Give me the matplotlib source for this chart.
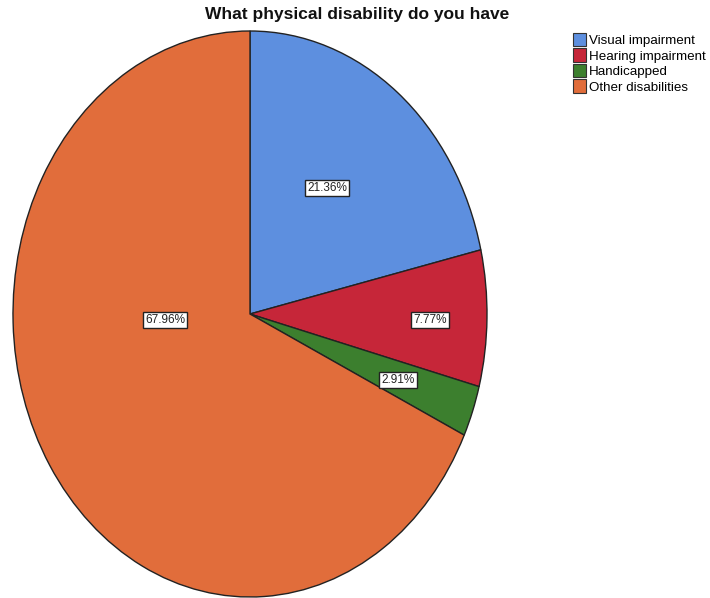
import numpy as np
import matplotlib.pyplot as plt
from matplotlib.patches import Patch

plt.rcParams['font.family'] = ['Liberation Sans', 'DejaVu Sans']

categories = ['Visual impairment', 'Hearing impairment', 'Handicapped', 'Other disabilities']
percents = [21.36, 7.77, 2.91, 67.96]
colors = ['#5d8fdf', '#c62639', '#3c7f2e', '#e16d3b']

# where each percentage box sits (pie units)
label_pos = [(0.325, 0.445), (0.76, -0.021), (0.624, -0.233), (-0.359, -0.021)]

fig = plt.figure(figsize=(7.10, 5.98), dpi=100)
ax = fig.add_axes([13 / 710, 1 / 598, 474 / 710, 566 / 598])

wedges, _ = ax.pie(percents, colors=colors, startangle=90, counterclock=False,
                   wedgeprops=dict(edgecolor='#222222', linewidth=1.0))
ax.set_aspect('auto')
ax.set_xlim(-1.0, 1.0)
ax.set_ylim(-1.0, 1.0)

for p, (x, y) in zip(percents, label_pos):
    ax.text(x, y, f'{p:.2f}%', ha='center', va='center', fontsize=8.5, color='#222222',
            bbox=dict(boxstyle='square,pad=0.2', facecolor='white', edgecolor='#222222', linewidth=1.0))

fig.text(0.5 * (215 + 500) / 710, 1 - 14 / 598, 'What physical disability do you have',
         ha='center', va='center', fontsize=12.5, fontweight='bold', color='#111111')

handles = [Patch(facecolor=c, edgecolor='#333333', linewidth=0.8) for c in colors]
fig.legend(handles, categories, loc='upper left', bbox_to_anchor=(573 / 710, 1 - 33 / 598),
           frameon=False, fontsize=9.6, handlelength=1.0, handleheight=1.15,
           handletextpad=0.2, labelspacing=0.1, borderpad=0, borderaxespad=0)

fig.savefig('out.png', dpi=100)
